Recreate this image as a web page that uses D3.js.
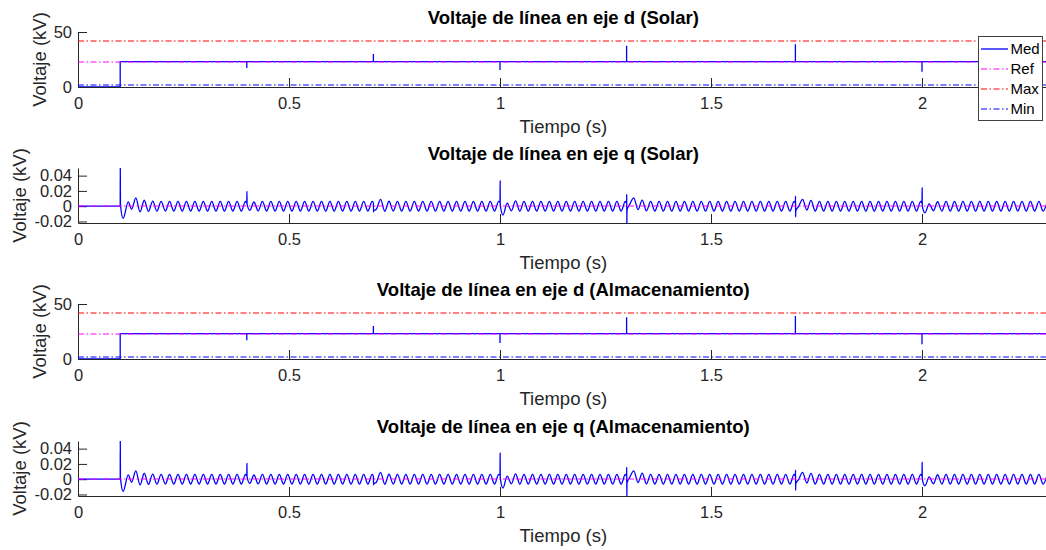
<!DOCTYPE html>
<html lang="es">
<head>
<meta charset="UTF-8">
<title>Voltaje de línea</title>
<style>
  body { margin: 0; background: #fff; }
  svg { display: block; font-family: "Liberation Sans", Arial, Helvetica, sans-serif; }
</style>
</head>
<body>
<svg id="chart"></svg>
<script src="https://cdnjs.cloudflare.com/ajax/libs/d3/7.8.5/d3.min.js"></script>
<script>
// ---- valores ----
var xTicks = [0, 0.5, 1, 1.5, 2];
var xDomain = [0, 2.3];
var dTicks = [0, 50];
var dDomain = [0, 50];
var qTicks = [-0.02, 0, 0.02, 0.04];
var qDomain = [-0.022, 0.05];

var seriesNames = ['Med', 'Ref', 'Max', 'Min'];
var dLevels = [23, 41.5, 2];   // Ref, Max, Min (kV)
var qLevels = [0];             // Ref

// eje d: [t, kV]
var dSolarMed = [
  [0, 0], [0.1, 0], [0.1, 23],
  [0.4, 23], [0.4, 17.3], [0.4, 23],
  [0.7, 23], [0.7, 30], [0.7, 23],
  [1.0, 23], [1.0, 15.5], [1.0, 23],
  [1.3, 23], [1.3, 37.5], [1.3, 23],
  [1.7, 23], [1.7, 38.8], [1.7, 23],
  [2.0, 23], [2.0, 13.8], [2.0, 23],
  [2.3, 23]
];
var dAlmMed = [
  [0, 0], [0.1, 0], [0.1, 23],
  [0.4, 23], [0.4, 17], [0.4, 23],
  [0.7, 23], [0.7, 30], [0.7, 23],
  [1.0, 23], [1.0, 14.5], [1.0, 23],
  [1.3, 23], [1.3, 38], [1.3, 23],
  [1.7, 23], [1.7, 39], [1.7, 23],
  [2.0, 23], [2.0, 13.5], [2.0, 23],
  [2.3, 23]
];

// eje q: arranque, luego maximos/minimos de la oscilacion cada medio periodo
var qStart = [[0, 0], [0.1, 0], [0.1002, 0.05], [0.1006, 0.002], [0.107, -0.016], [0.119, 0.0056], [0.127, -0.004]];
var qWaveT0 = 0.137, qWaveDt = 0.01;
var qWave = [
  0.0108, -0.0074, 0.0078, -0.0068, 0.0066, -0.0065, 0.0064, -0.0064, 0.0063, -0.0064,
  0.0063, -0.0064, 0.0063, -0.0064, 0.0063, -0.0064, 0.0063, -0.0064, 0.0063, -0.0064,
  0.0063, -0.0064, 0.0063, -0.0064, 0.0063, -0.0064, 0.0063, -0.0055, 0.0055, -0.0062,
  0.0063, -0.0064, 0.0063, -0.0064, 0.0063, -0.0064, 0.0063, -0.0064, 0.0063, -0.0064,
  0.0063, -0.0064, 0.0063, -0.0064, 0.0063, -0.0064, 0.0063, -0.0064, 0.0063, -0.0064,
  0.0063, -0.0064, 0.0063, -0.0064, 0.0063, -0.0064, 0.0063, -0.0040, 0.0090, -0.0066,
  0.0065, -0.0064, 0.0063, -0.0064, 0.0063, -0.0064, 0.0063, -0.0064, 0.0063, -0.0064,
  0.0063, -0.0064, 0.0063, -0.0064, 0.0063, -0.0064, 0.0063, -0.0064, 0.0063, -0.0064,
  0.0063, -0.0064, 0.0063, -0.0064, 0.0063, -0.0064, 0.0063, -0.0117, 0.0040, -0.0060,
  0.0070, -0.0066, 0.0063, -0.0064, 0.0063, -0.0064, 0.0063, -0.0064, 0.0063, -0.0064,
  0.0063, -0.0064, 0.0063, -0.0064, 0.0063, -0.0064, 0.0063, -0.0064, 0.0063, -0.0064,
  0.0063, -0.0064, 0.0063, -0.0064, 0.0063, -0.0064, 0.0063, 0.0020, 0.0110, -0.0045,
  0.0080, -0.0062, 0.0063, -0.0064, 0.0063, -0.0064, 0.0063, -0.0064, 0.0063, -0.0064,
  0.0063, -0.0064, 0.0063, -0.0064, 0.0063, -0.0064, 0.0063, -0.0064, 0.0063, -0.0064,
  0.0063, -0.0064, 0.0063, -0.0064, 0.0063, -0.0064, 0.0063, -0.0064, 0.0063, -0.0064,
  0.0063, -0.0064, 0.0063, -0.0064, 0.0063, -0.0064, 0.0063, -0.0010, 0.0090, -0.0050,
  0.0075, -0.0063, 0.0063, -0.0064, 0.0063, -0.0064, 0.0063, -0.0064, 0.0063, -0.0064,
  0.0063, -0.0064, 0.0063, -0.0064, 0.0063, -0.0064, 0.0063, -0.0064, 0.0063, -0.0064,
  0.0063, -0.0064, 0.0063, -0.0064, 0.0063, -0.0064, 0.0063, -0.0087, 0.0030, -0.0060,
  0.0058, -0.0064, 0.0063, -0.0064, 0.0063, -0.0064, 0.0063, -0.0064, 0.0063, -0.0064,
  0.0063, -0.0064, 0.0063, -0.0064, 0.0063, -0.0064, 0.0063, -0.0064, 0.0063, -0.0064,
  0.0063, -0.0064, 0.0063, -0.0064, 0.0063, -0.0064, 0.0063
];
// picos estrechos (valores sucesivos en el instante t)
var qSolarSpikes = [
  { t: 0.4, v: [0.004, 0.0195, 0.003] },
  { t: 0.7, v: [0.004, -0.0075, -0.006] },
  { t: 1.0, v: [0.005, 0.033, 0.002] },
  { t: 1.3, v: [0.004, 0.0156, -0.023, -0.005] },
  { t: 1.7, v: [0.004, 0.013, -0.014, -0.006] },
  { t: 2.0, v: [0.004, 0.0238, 0.0] }
];
var qAlmSpikes = [
  { t: 0.4, v: [0.004, 0.0204, 0.003] },
  { t: 0.7, v: [0.004, -0.0075, -0.006] },
  { t: 1.0, v: [0.005, 0.034, 0.002] },
  { t: 1.3, v: [0.004, 0.0156, -0.023, -0.005] },
  { t: 1.7, v: [0.004, 0.012, -0.0145, -0.006] },
  { t: 2.0, v: [0.004, 0.022, 0.0] }
];

function buildQ(spikes) {
  var pts = qStart.slice();
  qWave.forEach(function (v, j) { pts.push([qWaveT0 + j * qWaveDt, v]); });
  spikes.forEach(function (s) {
    s.v.forEach(function (v, k) { pts.push([s.t + k * 0.0003, v]); });
  });
  pts.sort(function (a, b) { return a[0] - b[0]; });
  return pts;
}

/* estilos de las series */
var styles = {
  Med: { color: '#0000ff', width: 1.3, dash: null },
  Ref: { color: '#ff00ff', width: 1, dash: '6,2.5,1.5,2.5' },
  Max: { color: '#ff0000', width: 1, dash: '6,2.5,1.5,2.5' },
  Min: { color: '#0000ff', width: 1, dash: '6,2.5,1.5,2.5' }
};

var W = 1046, H = 550;
var left = 78, right = 78 + 2.3 * 422;
var plotH = 55;
var axisColor = '#262626';

var panels = [
  { title: 'Voltaje de línea en eje d (Solar)', top: 32, kind: 'd', med: dSolarMed, legend: true },
  { title: 'Voltaje de línea en eje q (Solar)', top: 168, kind: 'q', med: buildQ(qSolarSpikes) },
  { title: 'Voltaje de línea en eje d (Almacenamiento)', top: 304, kind: 'd', med: dAlmMed },
  { title: 'Voltaje de línea en eje q (Almacenamiento)', top: 441, kind: 'q', med: buildQ(qAlmSpikes) }
];

var svg = d3.select('#chart').attr('width', W).attr('height', H);

var x = d3.scaleLinear().domain(xDomain).range([left, right]);
var cx = (left + right) / 2;

panels.forEach(function (p, i) {
  var bottom = p.top + plotH;
  var isD = p.kind === 'd';
  var y = d3.scaleLinear().domain(isD ? dDomain : qDomain).range([bottom, p.top]);

  // ejes
  var gx = svg.append('g')
    .attr('transform', 'translate(0,' + bottom + ')')
    .call(d3.axisBottom(x).tickValues(xTicks).tickSizeInner(-9).tickSizeOuter(0).tickPadding(10.5)
      .tickFormat(function (d) { return String(d); }));
  var gy = svg.append('g')
    .attr('transform', 'translate(' + left + ',0)')
    .call(d3.axisLeft(y).tickValues(isD ? dTicks : qTicks).tickSizeInner(-9).tickSizeOuter(0).tickPadding(6)
      .tickFormat(function (d) { return String(d); }));
  [gx, gy].forEach(function (ax) {
    ax.attr('font-size', 16.5).attr('font-family', null);
    ax.selectAll('path, line').attr('stroke', axisColor);
    ax.selectAll('text').attr('fill', axisColor);
  });

  // recorte
  var clipId = 'clip' + i;
  svg.append('clipPath').attr('id', clipId)
    .append('rect').attr('x', left).attr('y', p.top).attr('width', right - left).attr('height', plotH);
  var g = svg.append('g').attr('clip-path', 'url(#' + clipId + ')');

  var line = d3.line()
    .x(function (d) { return x(d[0]); })
    .y(function (d) { return y(d[1]); })
    .curve(isD ? d3.curveLinear : d3.curveMonotoneX);

  g.append('path')
    .attr('d', line(p.med))
    .attr('fill', 'none')
    .attr('stroke', styles.Med.color)
    .attr('stroke-width', styles.Med.width);

  // lineas de referencia (sobre pixel entero: se reparten en dos filas, tono claro)
  var levels = isD ? dLevels : qLevels;
  levels.forEach(function (v, k) {
    var st = styles[seriesNames[k + 1]];
    var py = Math.round(y(v));
    g.append('line')
      .attr('x1', x(xDomain[0])).attr('x2', x(xDomain[1]))
      .attr('y1', py).attr('y2', py)
      .style('stroke', st.color)
      .style('stroke-width', st.width)
      .style('stroke-dasharray', st.dash);
  });

  // textos
  svg.append('text')
    .attr('x', cx).attr('y', p.top - 8.5)
    .attr('text-anchor', 'middle')
    .attr('font-size', 18.5).attr('font-weight', 'bold')
    .attr('fill', '#000')
    .text(p.title);

  svg.append('text')
    .attr('x', cx).attr('y', bottom + 46)
    .attr('text-anchor', 'middle')
    .attr('font-size', 18.5)
    .attr('fill', axisColor)
    .text('Tiempo (s)');

  svg.append('text')
    .attr('transform', 'translate(' + (isD ? 45.5 : 26) + ',' + (p.top + plotH / 2) + ') rotate(-90)')
    .attr('text-anchor', 'middle')
    .attr('font-size', 18.5)
    .attr('fill', axisColor)
    .text('Voltaje (kV)');

  if (p.legend) {
    var lg = svg.append('g');
    lg.append('rect')
      .attr('x', 978.5).attr('y', 36.5).attr('width', 64).attr('height', 84)
      .attr('fill', '#fff').attr('stroke', '#404040').attr('stroke-width', 1);
    seriesNames.forEach(function (name, k) {
      var st = styles[name];
      var ly = 49 + k * 20;
      lg.append('line')
        .attr('x1', 981).attr('x2', 1008).attr('y1', ly).attr('y2', ly)
        .style('stroke', st.color)
        .style('stroke-width', name === 'Med' ? 1.3 : 1)
        .style('stroke-dasharray', st.dash);
      lg.append('text')
        .attr('x', 1010.5).attr('y', ly).attr('dy', '0.35em')
        .attr('font-size', 15).attr('fill', '#000')
        .text(name);
    });
  }
});
</script>
</body>
</html>
